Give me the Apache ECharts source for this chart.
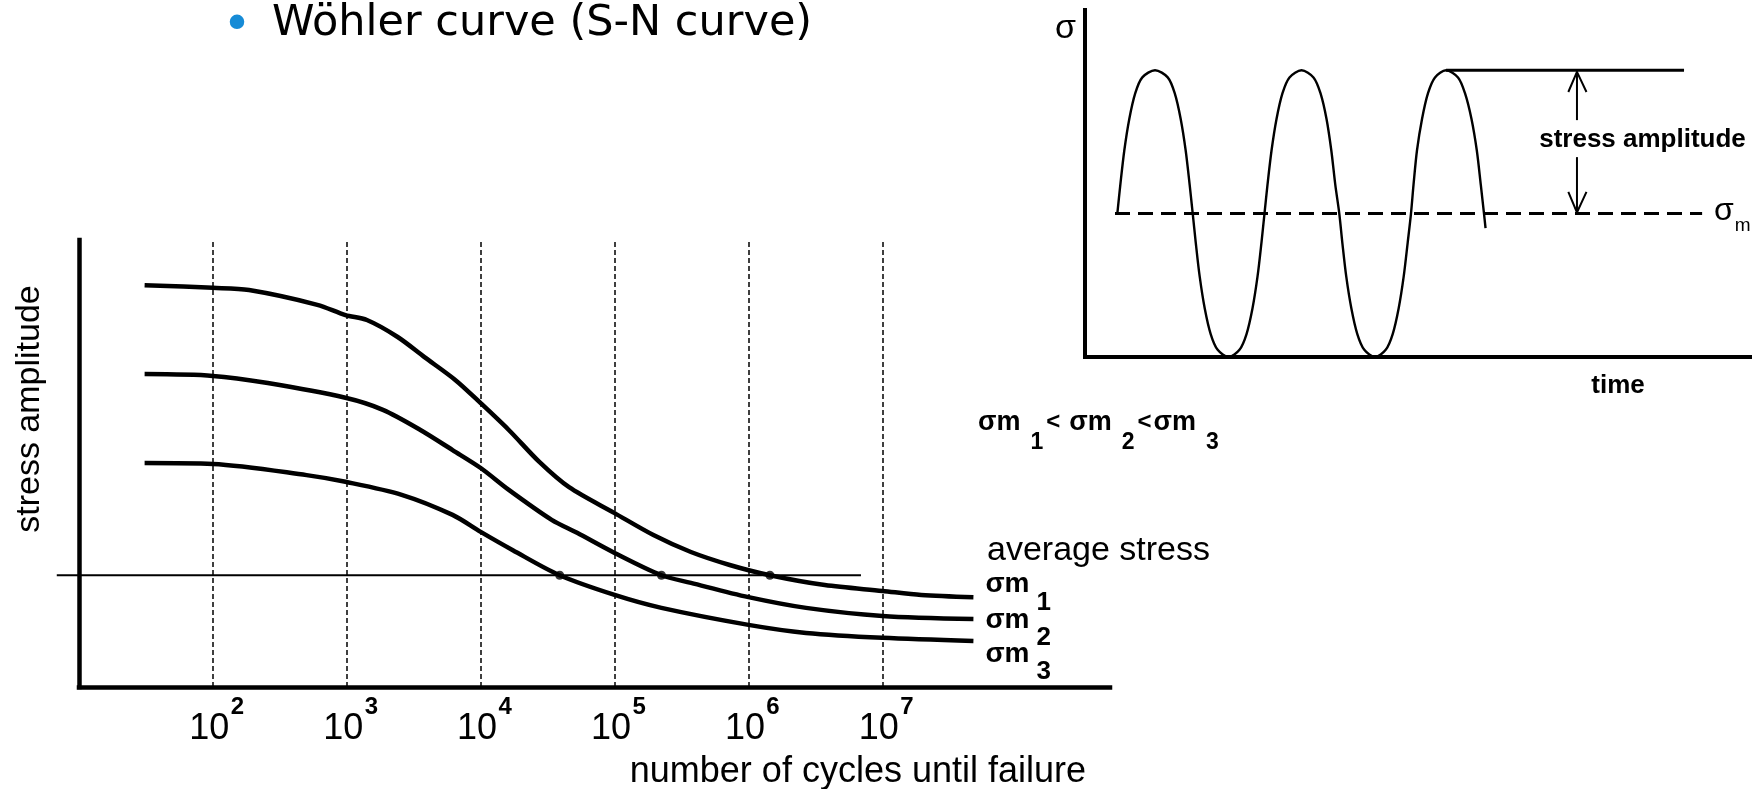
<!DOCTYPE html>
<html><head><meta charset="utf-8">
<script src="https://cdn.jsdelivr.net/npm/echarts@6/dist/echarts.min.js"></script>
<style>html,body{margin:0;padding:0;background:#fff}#c{width:1758px;height:789px}</style>
</head><body><div id="c"></div>
<script>
// ---------- data ----------
// S-N chart: x = log10(number of cycles), y = stress amplitude (arbitrary units)
const cycleExponents = [2, 3, 4, 5, 6, 7];           // tick labels 10^n and dashed gridlines
const curveM1 = [[1.49,89.9],[2.0,89.3],[2.27,88.8],[2.78,85.5],[2.99,83.2],[3.15,82.1],[3.38,78.3],[3.58,73.8],[3.81,68.7],[4.0,63.5],[4.21,57.5],[4.44,50.3],[4.66,44.7],[5.0,38.9],[5.29,34.0],[5.57,30.2],[5.86,27.3],[6.16,25.0],[6.57,22.8],[7.0,21.5],[7.29,20.6],[7.68,20.1]];
const curveM2 = [[1.49,70.0],[2.0,69.6],[2.41,68.0],[2.99,64.7],[3.27,62.0],[3.55,57.5],[3.79,53.0],[4.0,49.0],[4.21,44.1],[4.53,37.4],[4.72,34.5],[5.0,30.0],[5.35,25.0],[5.57,23.3],[6.0,20.1],[6.43,17.7],[7.0,15.9],[7.68,15.2]];
const curveM3 = [[1.49,50.1],[2.0,49.9],[2.70,47.4],[2.99,45.9],[3.41,43.0],[3.79,38.5],[4.0,34.7],[4.24,30.6],[4.59,25.0],[5.0,20.6],[5.35,17.7],[6.0,13.9],[6.43,12.1],[7.0,11.0],[7.68,10.3]];
const curveSubscripts = ['1', '2', '3'];
const averageStressLine = [0.834, 25, 6.84, 25];     // x1, y1, x2, y2
const intersections = [[4.59,25],[5.35,25],[6.16,25]];

// cyclic loading chart: x = time (0..100), y = stress sigma (0..121)
const wave = [
  [4.86,50],[5.31,60],[5.91,72],[6.66,83],[7.56,92],[8.62,97.5],[10.53,100],[12.44,97.5],[13.49,92],[14.39,83],[15.14,72],[15.74,60],[16.20,50],
  [16.65,40],[17.25,28],[18.00,17],[18.90,8],[19.95,2.5],[21.59,0],[23.23,2.5],[24.29,8],[25.19,17],[25.94,28],[26.54,40],[26.99,50],
  [27.44,60],[28.05,72],[28.80,83],[29.70,92],[30.75,97.5],[32.56,100],[34.36,97.5],[35.41,92],[36.32,83],[37.04,72],[37.64,60],[38.24,50],
  [38.69,40],[39.29,28],[40.05,17],[40.95,8],[42.00,2.5],[43.61,0],[45.22,2.5],[46.27,8],[47.17,17],[47.92,28],[48.53,40],[49.02,50],
  [49.40,60],[49.92,72],[50.68,83],[51.58,92],[52.63,97.5],[54.29,100],[56.09,97.5],[57.14,92],[58.12,83],[58.92,72],[59.52,60],[60.00,50],[60.23,44.9]
];
const meanStressLine = [[4.51,50],[92.8,50]];
const peakLine = [[54.29,100],[90.08,100]];
const amplitudeArrow = [
  [[72.68,92.4],[73.98,99.4],[75.41,92.4]],
  [[73.98,99.4],[73.98,82.6]],
  [[73.98,69.7],[73.98,50.4]],
  [[72.68,57.6],[73.98,50.4],[75.41,57.6]]
];

// ---------- chart ----------
const AR = 'Liberation Sans';
const chart = echarts.init(document.getElementById('c'), null, {renderer: 'canvas'});

const curveLabelRich = {
  s: {fontFamily: AR, fontSize: 28, fontWeight: 'bold', color: '#000', lineHeight: 30, padding: [0,0,18,0]},
  d: {fontFamily: AR, fontSize: 26, fontWeight: 'bold', color: '#000', lineHeight: 30, padding: [18,0,0,7]}
};
const curveOffsets = [[0,-3.6],[0,9.9],[0,21.9]];
function curveSeries(data, i) {
  return {
    type: 'line', xAxisIndex: 0, yAxisIndex: 0, data: data, smooth: 0.3, symbol: 'none',
    lineStyle: {color: '#000', width: 4.5}, silent: true,
    endLabel: {show: true, formatter: '{s|σm}{d|' + curveSubscripts[i] + '}', distance: 12,
      offset: curveOffsets[i], rich: curveLabelRich}
  };
}

const option = {
  animation: false,
  backgroundColor: '#fff',
  title: {
    text: 'Wöhler curve (S-N curve)', left: 272, top: 2, padding: 0,
    textStyle: {fontFamily: 'DejaVu Sans', fontSize: 43, fontWeight: 'normal', color: '#000'}
  },
  grid: [
    {left: 79, top: 240, right: 648, bottom: 102, containLabel: false, outerBoundsMode: 'none'},
    {left: 1085, top: 10, right: 8, bottom: 432, containLabel: false, outerBoundsMode: 'none'}
  ],
  xAxis: [
    {
      type: 'value', gridIndex: 0, min: 1, max: 8.7, interval: 1,
      axisLine: {show: true, lineStyle: {color: '#000', width: 4.5, cap: 'square'}},
      axisTick: {show: false}, splitLine: {show: false},
      axisLabel: {
        margin: 13.5,
        formatter: function (v) { return cycleExponents.indexOf(v) >= 0 ? '{n|10}{e|' + v + '}' : ''; },
        rich: {
          n: {fontFamily: AR, fontSize: 36, color: '#000', lineHeight: 40, padding: [17,0,0,7.6]},
          e: {fontFamily: AR, fontSize: 24, fontWeight: 'bold', color: '#000', lineHeight: 40, padding: [0,0,26,1.4]}
        }
      },
      name: 'number of cycles until failure', nameLocation: 'end', nameGap: -24,
      nameTextStyle: {fontFamily: AR, fontSize: 36, color: '#000', align: 'right', verticalAlign: 'top', padding: [67,0,0,0]}
    },
    {
      type: 'value', gridIndex: 1, min: 0, max: 100,
      axisLine: {show: true, lineStyle: {color: '#000', width: 4, cap: 'square'}},
      axisTick: {show: false}, splitLine: {show: false}, axisLabel: {show: false},
      name: 'time', nameLocation: 'end', nameGap: -132,
      nameTextStyle: {fontFamily: AR, fontSize: 26, fontWeight: 'bold', color: '#000', align: 'center', verticalAlign: 'top', padding: [16,0,0,0]}
    }
  ],
  yAxis: [
    {
      type: 'value', gridIndex: 0, min: 0, max: 100,
      axisLine: {show: true, lineStyle: {color: '#000', width: 4.5, cap: 'square'}},
      axisTick: {show: false}, splitLine: {show: false}, axisLabel: {show: false},
      name: 'stress amplitude', nameLocation: 'middle', nameGap: 32, nameRotate: 90,
      nameTextStyle: {fontFamily: AR, fontSize: 34, color: '#000', padding: [0,0,0,109]}
    },
    {
      type: 'value', gridIndex: 1, min: 0, max: 121,
      axisLine: {show: true, lineStyle: {color: '#000', width: 4, cap: 'square'}},
      axisTick: {show: false}, splitLine: {show: false}, axisLabel: {show: false},
      name: 'σ', nameLocation: 'end', nameGap: -19,
      nameTextStyle: {fontFamily: AR, fontSize: 34, color: '#000', align: 'right', verticalAlign: 'middle', padding: [0,9,0,0]}
    }
  ],
  graphic: [
    {type: 'text', x: 237, y: 27, silent: true,
      style: {text: '•', fontFamily: 'DejaVu Sans', fontSize: 50, fill: '#168bd6', align: 'center', verticalAlign: 'middle'}},
    {type: 'text', x: 987, y: 551, silent: true,
      style: {text: 'average stress', fontFamily: AR, fontSize: 34, fill: '#000', align: 'left', verticalAlign: 'middle'}},
    {type: 'text', x: 976, y: 432, silent: true,
      style: {text: '{s|σm}{d|1}{l|<}{g|σm}{d|2}{l|<}{s|σm}{d|3}', align: 'left', verticalAlign: 'middle', fill: '#000',
        rich: {
          s: {fontFamily: AR, fontSize: 27, fontWeight: 'bold', fill: '#000', lineHeight: 30, padding: [0,0,18.6,2]},
          g: {fontFamily: AR, fontSize: 27, fontWeight: 'bold', fill: '#000', lineHeight: 30, padding: [0,0,18.6,9]},
          d: {fontFamily: AR, fontSize: 23, fontWeight: 'bold', fill: '#000', lineHeight: 30, padding: [21,0,0,10]},
          l: {fontFamily: AR, fontSize: 24, fontWeight: 'bold', fill: '#000', lineHeight: 30, padding: [0,0,19,3]}
        }}},
    {type: 'text', x: 1642.5, y: 140, silent: true,
      style: {text: 'stress amplitude', fontFamily: AR, fontSize: 26, fontWeight: 'bold', fill: '#000', align: 'center', verticalAlign: 'middle'}}
  ],
  series: [
    curveSeries(curveM1, 0),
    curveSeries(curveM2, 1),
    curveSeries(curveM3, 2),
    {
      name: 'average stress', type: 'custom', xAxisIndex: 0, yAxisIndex: 0, clip: false, silent: true,
      data: [averageStressLine],
      encode: {x: [0, 2], y: [1, 3]},
      renderItem: function (params, api) {
        const p1 = api.coord([api.value(0), api.value(1)]);
        const p2 = api.coord([api.value(2), api.value(3)]);
        return {type: 'line', shape: {x1: p1[0], y1: p1[1], x2: p2[0], y2: p2[1]},
          style: {stroke: '#000', lineWidth: 2}};
      }
    },
    {
      type: 'scatter', xAxisIndex: 0, yAxisIndex: 0, data: intersections, symbol: 'circle', symbolSize: 9,
      itemStyle: {color: '#000'}, silent: true, z: 3,
      markLine: {
        silent: true, symbol: 'none', label: {show: false},
        lineStyle: {color: '#000', width: 1.5, type: [5, 3]},
        data: cycleExponents.map(function (e) { return {xAxis: e}; })
      }
    },
    {
      type: 'line', xAxisIndex: 1, yAxisIndex: 1, data: wave, smooth: 0.3, symbol: 'none',
      lineStyle: {color: '#000', width: 2.4}, silent: true
    },
    {
      type: 'line', xAxisIndex: 1, yAxisIndex: 1, data: meanStressLine, symbol: 'none', silent: true,
      lineStyle: {color: '#000', width: 3, type: [15, 8]},
      endLabel: {show: true, formatter: '{s|σ}{m|m}', distance: 12, offset: [0, 5],
        rich: {
          s: {fontFamily: AR, fontSize: 32, color: '#000', lineHeight: 34, padding: [0,0,14,0]},
          m: {fontFamily: AR, fontSize: 19, color: '#000', lineHeight: 34, padding: [14,0,0,1]}
        }}
    },
    {
      type: 'line', xAxisIndex: 1, yAxisIndex: 1, data: peakLine, symbol: 'none', silent: true,
      lineStyle: {color: '#000', width: 3}
    },
    {
      type: 'lines', coordinateSystem: 'cartesian2d', xAxisIndex: 1, yAxisIndex: 1, polyline: true, silent: true,
      lineStyle: {color: '#000', width: 2, opacity: 1, curveness: 0},
      data: amplitudeArrow.map(function (c) { return {coords: c}; })
    }
  ]
};
chart.setOption(option);
</script>
</body></html>
